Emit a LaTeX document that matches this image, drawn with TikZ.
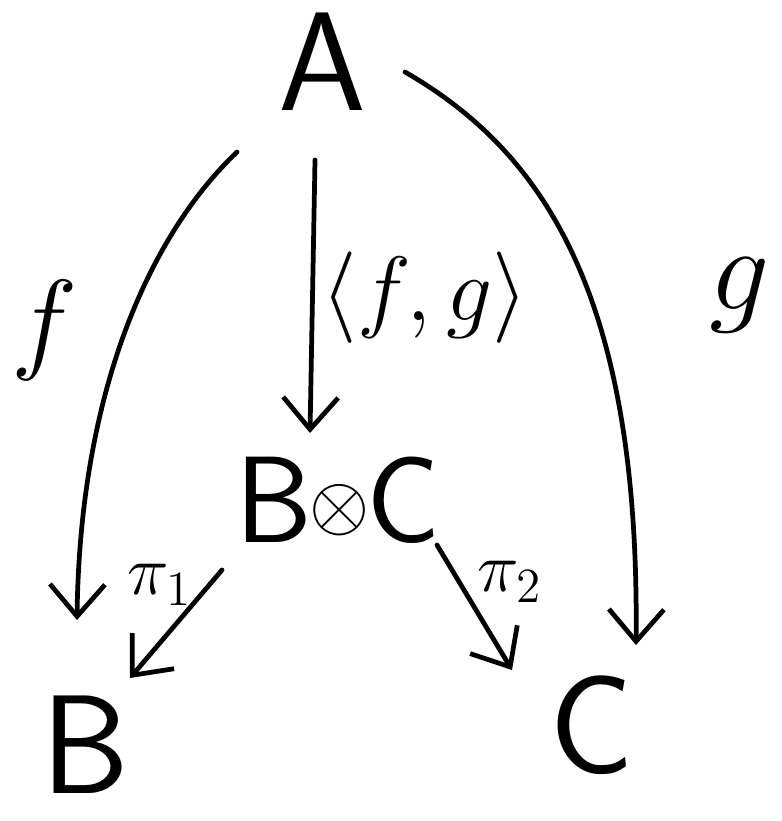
\RequirePackage{fix-cm}
\documentclass[tikz,border=0pt]{standalone}
\usepackage{fontspec}
\usetikzlibrary{arrows.meta}
\begin{document}
\begin{tikzpicture}[x=1cm,y=1cm,
  obj/.style={inner sep=0pt, font=\fontsize{40}{40}\selectfont\sffamily},
  lbl/.style={inner sep=0pt, font=\fontsize{32}{32}\selectfont},
  mor/.style={line width=1.35pt, line cap=round, -{Straight Barb[length=0.32cm,width=0.55cm,line width=1.35pt]}}]
\useasboundingbox (0,0) rectangle (7.81,-8.21);
\node[obj] (A) at (3.22,-0.62) {A};
\node[obj, font=\fontsize{35}{35}\selectfont\sffamily] (BC) at (3.38,-5.0) {B\kern-1pt\raisebox{3.5pt}{\fontsize{22}{22}\selectfont$\otimes$}\kern-1pt C};
\node[obj, font=\fontsize{40}{40}\selectfont\sffamily] (B) at (0.86,-7.45) {B};
\node[obj] (C) at (5.92,-7.25) {C};
\node[lbl] (f) at (0.45,-3.3) {$f$};
\node[lbl, font=\fontsize{34}{34}\selectfont] (g) at (7.4,-2.95) {$g$};
\node[lbl, font=\fontsize{26}{26}\selectfont] (fg) at (4.25,-2.98) {$\langle f,g\rangle$};
\node[lbl, font=\fontsize{20}{20}\selectfont] (p1) at (1.6,-5.85) {$\pi_1$};
\node[lbl, font=\fontsize{20}{20}\selectfont] (p2) at (5.1,-5.82) {$\pi_2$};
\coordinate (fs) at (2.37,-1.52);
\coordinate (fe) at (0.77,-6.2);
\coordinate (ms) at (3.15,-1.6);
\coordinate (me) at (3.1,-4.33);
\coordinate (gs) at (4.05,-0.72);
\coordinate (ge) at (6.36,-6.45);
\coordinate (p1s) at (2.22,-5.7);
\coordinate (p1e) at (1.3,-6.78);
\coordinate (p2s) at (4.37,-5.45);
\coordinate (p2e) at (5.12,-6.7);
\draw[mor] (fs) .. controls (1.5,-2.35) and (0.8,-3.9) .. (fe);
\draw[mor] (ms) -- (me);
\draw[mor] (gs) .. controls (5.4,-1.5) and (6.4,-2.9) .. (ge);
\draw[mor] (p1s) -- (p1e);
\draw[mor] (p2s) -- (p2e);
\end{tikzpicture}
\end{document}
